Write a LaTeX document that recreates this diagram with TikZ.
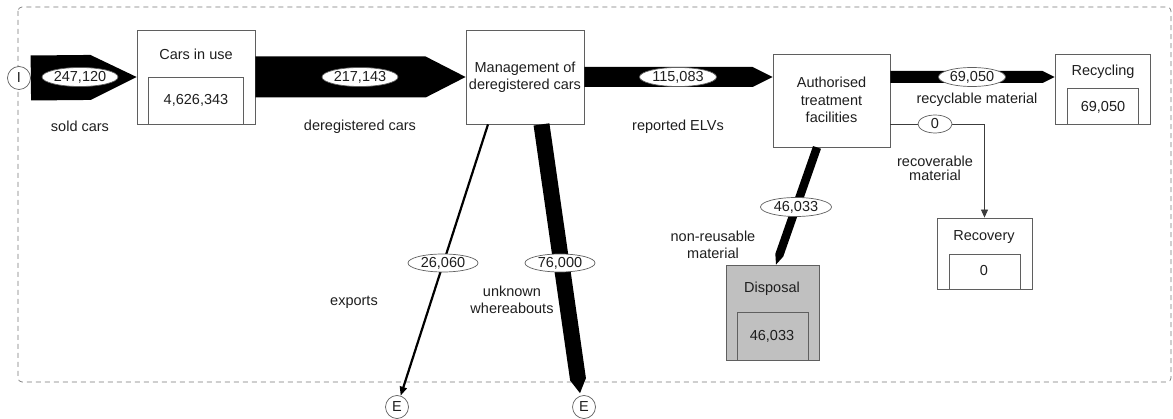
\documentclass[tikz,border=0pt]{standalone}
\usepackage{fontspec}
\setmainfont{Liberation Sans}
\usetikzlibrary{calc,arrows.meta,shapes.geometric}
\definecolor{boxc}{RGB}{95,95,95}
\definecolor{txtc}{RGB}{30,30,30}
\definecolor{dispc}{RGB}{192,192,192}
\definecolor{framec}{RGB}{120,120,120}
\newcommand\flowarrow[4]{%
  \coordinate (fh) at ($(#2)!#4!(#1)$);
  \fill[black] ($(#1)!#3!90:(#2)$) -- ($(fh)!#3!90:(#2)$) -- (#2) -- ($(fh)!#3!-90:(#2)$) -- ($(#1)!#3!-90:(#2)$) -- cycle;}
\begin{document}
\begin{tikzpicture}[x=1pt,y=-1pt,
  every node/.style={font=\fontsize{14.5}{17}\selectfont, text=txtc},
  box/.style={draw=boxc, line width=0.8pt, inner sep=0pt},
  txt/.style={inner sep=0pt, align=center},
  lab/.style={ellipse, draw=boxc, line width=0.7pt, fill=white, inner sep=0pt, minimum width=76pt, minimum height=19pt},
  term/.style={circle, draw=boxc, line width=0.7pt, fill=white, inner sep=0pt, minimum size=23pt}]
\useasboundingbox (0,0) rectangle (1173,419);
% frame
\draw[framec, line width=0.7pt, dash pattern=on 5pt off 4pt, rounded corners=4pt] (18,7) rectangle (1171,382);
% boxes
\node[box, minimum width=118pt, minimum height=94pt] (cars) at (196,77) {};
\node[box, minimum width=95pt, minimum height=47pt, anchor=south] (carsv) at (cars.south) {};
\node[txt] (carst) at (196,54) {Cars in use};
\node[txt] (carsn) at (196,100) {4,626,343};
\node[box, minimum width=118pt, minimum height=94pt] (mgmt) at (525,77) {};
\node[txt] (mgmtt) at (525,77) {Management of\\deregistered cars};
\node[box, minimum width=117pt, minimum height=93pt] (atf) at (831.5,100.5) {};
\node[txt, font=\fontsize{14.5}{17.5}\selectfont] (atft) at (831.5,100) {Authorised\\treatment\\facilities};
\node[box, minimum width=95pt, minimum height=70pt] (recy) at (1102.5,89) {};
\node[box, minimum width=71pt, minimum height=36pt, anchor=south] (recyv) at (recy.south) {};
\node[txt] (recyt) at (1103,72) {Recycling};
\node[txt] (recyn) at (1103,107) {69,050};
\node[box, minimum width=95pt, minimum height=71pt] (rec) at (984.5,253.5) {};
\node[box, minimum width=71pt, minimum height=35pt, anchor=south] (recv) at (rec.south) {};
\node[txt] (rect) at (984,237) {Recovery};
\node[txt] (recn) at (984,271) {0};
\node[box, fill=dispc, minimum width=93pt, minimum height=95pt] (disp) at (772.5,312.5) {};
\node[box, minimum width=71pt, minimum height=48pt, anchor=south] (dispv) at (disp.south) {};
\node[txt] (dispt) at (772,289) {Disposal};
\node[txt] (dispn) at (772,336) {46,033};
% terminals
\node[term] (I) at (19,78) {I};
\node[term] (E1) at (397,407) {E};
\node[term] (E2) at (584,407) {E};
% flows
\flowarrow{I.east}{cars.west}{22.5pt}{46pt}
\flowarrow{cars.east}{mgmt.west}{20.5pt}{40pt}
\coordinate (atfin) at (atf.west |- mgmt.east);
\flowarrow{mgmt.east}{atfin}{10pt}{20pt}
\coordinate (atfout) at (atf.east |- mgmt.east);
\coordinate (recyin) at (recy.west |- mgmt.east);
\flowarrow{atfout}{recyin}{6pt}{12pt}
\coordinate (u1) at ($(mgmt.south)+(16.5,0)$);
\coordinate (u2) at ($(E2.north)+(-4,-2)$);
\flowarrow{u1}{u2}{8pt}{14pt}
\coordinate (d1) at ($(atf.south)+(-14.5,0)$);
\coordinate (d2) at ($(disp.north)+(3.5,0)$);
\flowarrow{d1}{d2}{4.2pt}{10pt}
\coordinate (x1) at ($(mgmt.south)+(-37,0)$);
\draw[black, line width=2.2pt, -{Triangle[length=9pt,width=7pt]}] (x1) -- (E1);
\coordinate (r1) at ($(atf.south east)+(0,-23)$);
\draw[draw={rgb,255:red,60;green,60;blue,60}, line width=0.8pt, -{Triangle[length=8pt,width=7pt]}] (r1) -| (rec.north);
% value labels
\node[lab] (l1) at (80,77) {247,120};
\node[lab] (l2) at (360,77) {217,143};
\node[lab, minimum width=77pt] (l3) at (678,77) {115,083};
\node[lab, minimum width=67pt] (l4) at (972,77) {69,050};
\node[lab, minimum width=34pt, minimum height=18pt] (l5) at (935,124) {0};
\node[lab, minimum width=71pt] (l6) at (796,207) {46,033};
\node[lab, minimum width=70pt, minimum height=18pt] (l7) at (443,263) {26,060};
\node[lab, minimum width=70pt, minimum height=18pt] (l8) at (560,263) {76,000};
% flow names
\node[txt] (n1) at (80,126) {sold cars};
\node[txt] (n2) at (360,127) {deregistered cars};
\node[txt] (n3) at (678,127) {reported ELVs};
\node[txt] (n4) at (977,100) {recyclable material};
\node[txt, font=\fontsize{14.5}{14}\selectfont] (n5) at (935,168) {recoverable\\material};
\node[txt, font=\fontsize{14.5}{17}\selectfont] (n6) at (713,245) {non-reusable\\material};
\node[txt] (n7) at (512,300) {unknown\\whereabouts};
\node[txt] (n8) at (354,302) {exports};
\end{tikzpicture}
\end{document}
